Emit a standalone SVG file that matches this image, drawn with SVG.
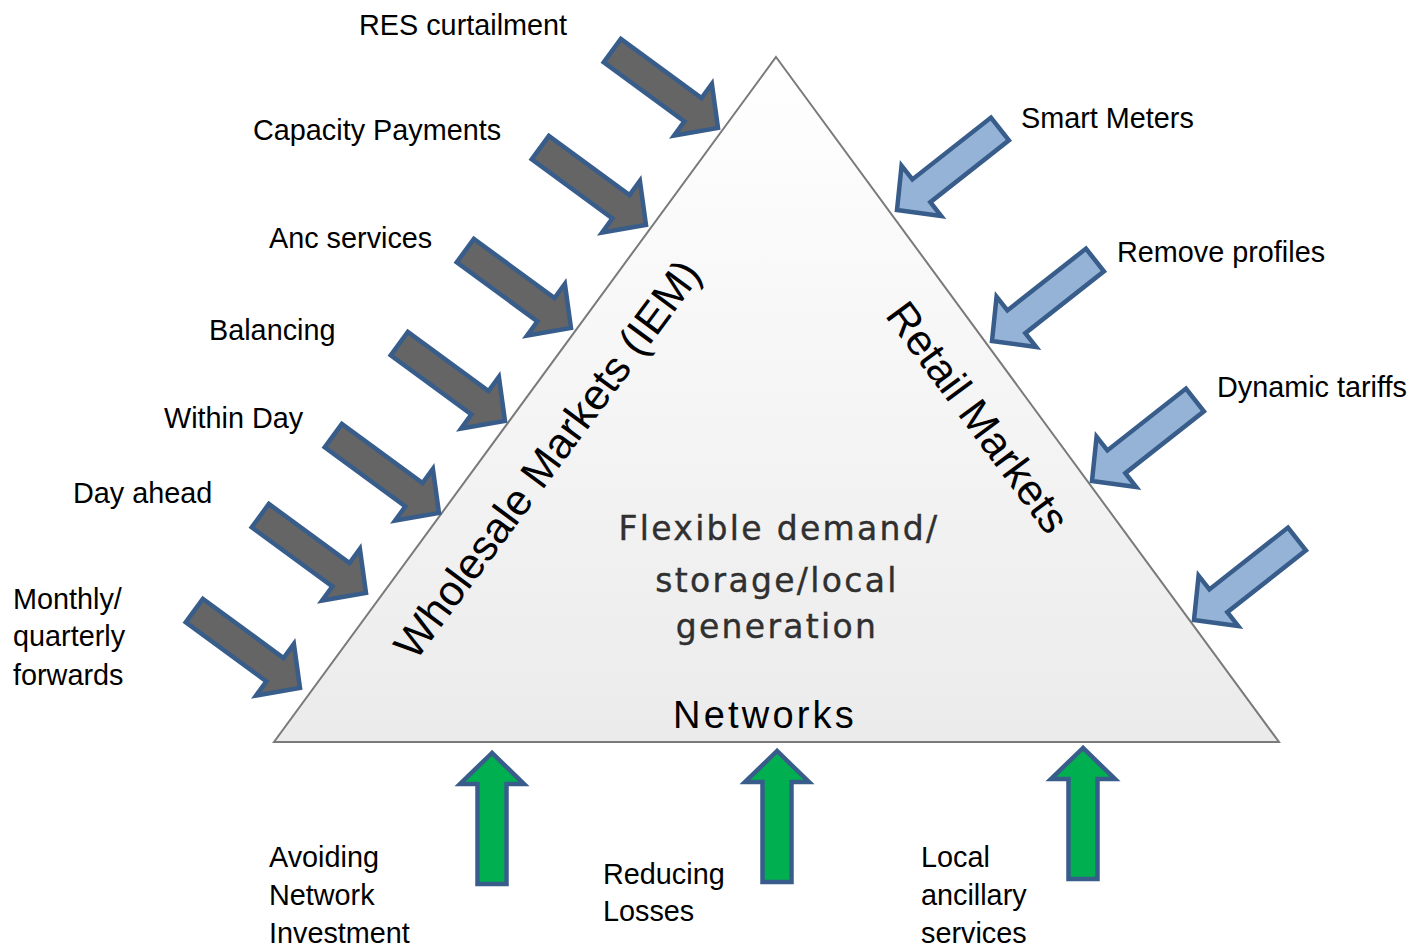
<svg xmlns="http://www.w3.org/2000/svg" xmlns:xlink="http://www.w3.org/1999/xlink" width="1415" height="948" viewBox="0 0 1415 948">
<style>
.lbl{font-family:"Liberation Sans",Arial,sans-serif;font-size:28.8px;fill:#000}
.side{font-family:"Liberation Sans",Arial,sans-serif;font-size:43px;fill:#000}
.mid{font-family:"DejaVu Sans",Verdana,sans-serif;font-size:33px;fill:#303030;letter-spacing:2.3px;stroke:#303030;stroke-width:0.4}
.net{font-family:"Liberation Sans",Arial,sans-serif;font-size:38px;fill:#000;letter-spacing:3.2px}
.ar{stroke:#385d8a;stroke-width:4.5;stroke-linejoin:miter}
.gray{fill:#656565}
.blue{fill:#95b3d7}
.green{fill:#00b050}
</style>
<defs>
<linearGradient id="tg" x1="0" y1="0" x2="0" y2="1">
<stop offset="0" stop-color="#ffffff"/>
<stop offset="1" stop-color="#ebebeb"/>
</linearGradient>
<path id="arrow" d="M0,0 L-31,-32 L-31,-14.5 L-131,-14.5 L-131,14.5 L-31,14.5 L-31,32 Z"/>
</defs>
<rect width="1415" height="948" fill="#ffffff"/>

<g id="triangle">
<polygon points="776,57 1279,742 274,742" fill="url(#tg)" stroke="#7a7a7a" stroke-width="2"/>
<text class="side" x="559" y="468" text-anchor="middle" transform="rotate(-53.5 559 468)">Wholesale Markets (IEM)</text>
<text class="side" x="966" y="426" text-anchor="middle" transform="rotate(53.5 966 426)">Retail Markets</text>
<text class="mid" x="779" y="540" text-anchor="middle">Flexible demand/</text>
<text class="mid" x="777" y="592" text-anchor="middle">storage/local</text>
<text class="mid" x="777" y="638" text-anchor="middle">generation</text>
<text class="net" x="673" y="728">Networks</text>
</g>

<g id="res-curtailment">
<use xlink:href="#arrow" href="#arrow" class="ar gray" transform="translate(718,128) rotate(36.2)"/>
<text class="lbl" x="359" y="35">RES curtailment</text>
</g>
<g id="capacity-payments">
<use xlink:href="#arrow" href="#arrow" class="ar gray" transform="translate(646,225) rotate(36.2)"/>
<text class="lbl" x="253" y="140">Capacity Payments</text>
</g>
<g id="anc-services">
<use xlink:href="#arrow" href="#arrow" class="ar gray" transform="translate(571,328) rotate(36.2)"/>
<text class="lbl" x="269" y="248">Anc services</text>
</g>
<g id="balancing">
<use xlink:href="#arrow" href="#arrow" class="ar gray" transform="translate(505,421) rotate(36.2)"/>
<text class="lbl" x="209" y="340">Balancing</text>
</g>
<g id="within-day">
<use xlink:href="#arrow" href="#arrow" class="ar gray" transform="translate(439,513) rotate(36.2)"/>
<text class="lbl" x="164" y="428">Within Day</text>
</g>
<g id="day-ahead">
<use xlink:href="#arrow" href="#arrow" class="ar gray" transform="translate(366,593) rotate(36.2)"/>
<text class="lbl" x="73" y="503">Day ahead</text>
</g>
<g id="monthly-forwards">
<use xlink:href="#arrow" href="#arrow" class="ar gray" transform="translate(300,688) rotate(36.2)"/>
<text class="lbl" x="13" y="609">Monthly/</text>
<text class="lbl" x="13" y="646">quarterly</text>
<text class="lbl" x="13" y="685">forwards</text>
</g>

<g id="smart-meters">
<use xlink:href="#arrow" href="#arrow" class="ar blue" transform="translate(897,210) rotate(141.8)"/>
<text class="lbl" x="1021" y="128">Smart Meters</text>
</g>
<g id="remove-profiles">
<use xlink:href="#arrow" href="#arrow" class="ar blue" transform="translate(992,341) rotate(141.8)"/>
<text class="lbl" x="1117" y="262">Remove profiles</text>
</g>
<g id="dynamic-tariffs">
<use xlink:href="#arrow" href="#arrow" class="ar blue" transform="translate(1092,481) rotate(141.8)"/>
<text class="lbl" x="1217" y="397">Dynamic tariffs</text>
</g>
<g id="retail-unlabelled">
<use xlink:href="#arrow" href="#arrow" class="ar blue" transform="translate(1194,620) rotate(141.8)"/>
</g>

<g id="avoiding-network-investment">
<use xlink:href="#arrow" href="#arrow" class="ar green" transform="translate(492,753) rotate(-90)"/>
<text class="lbl" x="269" y="867">Avoiding</text>
<text class="lbl" x="269" y="905">Network</text>
<text class="lbl" x="269" y="943">Investment</text>
</g>
<g id="reducing-losses">
<use xlink:href="#arrow" href="#arrow" class="ar green" transform="translate(777,751) rotate(-90)"/>
<text class="lbl" x="603" y="884">Reducing</text>
<text class="lbl" x="603" y="921">Losses</text>
</g>
<g id="local-ancillary-services">
<use xlink:href="#arrow" href="#arrow" class="ar green" transform="translate(1083,748) rotate(-90)"/>
<text class="lbl" x="921" y="867">Local</text>
<text class="lbl" x="921" y="905">ancillary</text>
<text class="lbl" x="921" y="943">services</text>
</g>
</svg>
